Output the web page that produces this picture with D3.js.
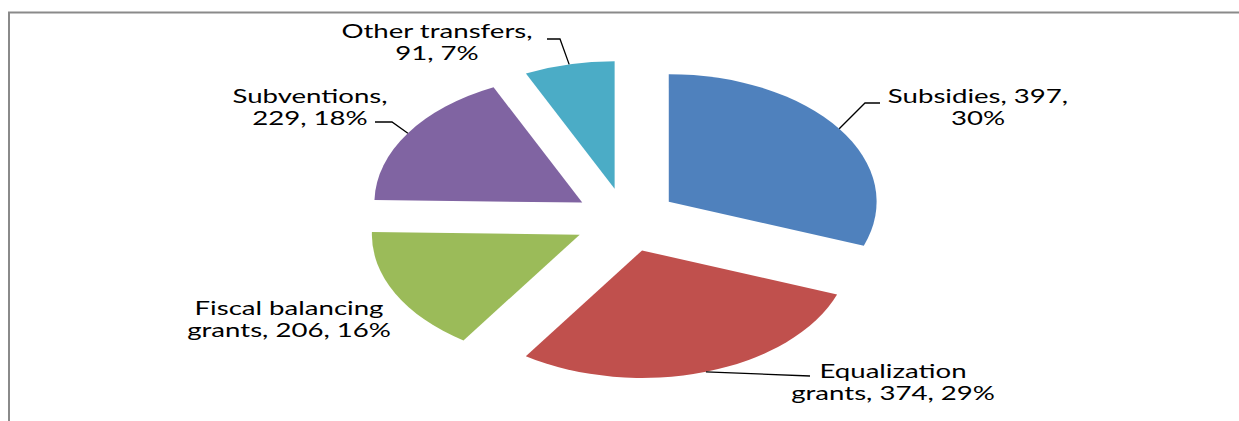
<!DOCTYPE html>
<html>
<head>
<meta charset="utf-8">
<script src="https://cdn.jsdelivr.net/npm/d3@7"></script>
<style>
  body { margin: 0; background: #fff; }
  svg { display: block; }
</style>
</head>
<body>
<div id="chart"></div>
<script>
// Data
const categories = ['Subsidies', 'Equalization grants', 'Fiscal balancing grants', 'Subventions', 'Other transfers'];
const values = [397, 374, 206, 229, 91];
const percents = ['30%', '29%', '16%', '18%', '7%'];
const colors = ['#4F81BD', '#C0504D', '#9BBB59', '#8064A2', '#4BACC6'];
// number of words on the first line of each label
const wrapAfter = [2, 1, 2, 1, 2];

const width = 1239;
const height = 421;

// pie geometry (drawn as a circle, then stretched horizontally)
const cx = 626;
const cy = 220;
const radius = 127.5;
const kx = 1.63;
const explode = 32;

// label anchors: centre x, first baseline y, and leader elbow / end
const labelLayout = [
  { x: 978, y: 103, leader: [[865, 103], [880, 103]] },
  { x: 893, y: 378, leader: [[810, 376]] },
  { x: 289, y: 315, leader: null },
  { x: 310, y: 103, leader: [[392, 122], [375, 122]] },
  { x: 437, y: 38, leader: [[560, 39], [547, 39]] }
];
const textStretch = 1.38;

const svg = d3.select('#chart')
  .append('svg')
  .attr('width', width)
  .attr('height', height);

// chart frame (only top and left edges are in view)
svg.append('path')
  .attr('d', `M9,${height} V12.5 H${width}`)
  .attr('fill', 'none')
  .attr('stroke', '#8a8a8a')
  .attr('stroke-width', 2);

const pie = d3.pie().sort(null).value((d) => d.value);
const arcs = pie(categories.map((c, i) => ({ name: c, value: values[i], pct: percents[i], i })));

const arc = d3.arc().innerRadius(0).outerRadius(radius);

const pieGroup = svg.append('g')
  .attr('transform', `translate(${cx},${cy}) scale(${kx},1)`);

const offset = (d, r) => {
  const a = (d.startAngle + d.endAngle) / 2;
  return [Math.sin(a) * r, -Math.cos(a) * r];
};

pieGroup.selectAll('path')
  .data(arcs)
  .enter()
  .append('path')
  .attr('transform', (d) => `translate(${offset(d, explode)})`)
  .attr('d', arc)
  .attr('fill', (d) => colors[d.data.i]);

// leader lines: start on the outer edge at the mid angle of the exploded slice
const toPx = (p) => [cx + p[0] * kx, cy + p[1]];
arcs.forEach((d, i) => {
  const lay = labelLayout[i];
  if (!lay.leader) return;
  const o = offset(d, explode);
  const e = offset(d, radius);
  const start = toPx([o[0] + e[0], o[1] + e[1]]);
  svg.append('path')
    .attr('d', d3.line()([start, ...lay.leader]))
    .attr('fill', 'none')
    .attr('stroke', '#000')
    .attr('stroke-width', 1.3);
});

// labels
arcs.forEach((d, i) => {
  const lay = labelLayout[i];
  const words = `${d.data.name}, ${d.data.value}, ${d.data.pct}`.split(' ');
  const lines = [words.slice(0, wrapAfter[i]).join(' '), words.slice(wrapAfter[i]).join(' ')];
  const t = svg.append('text')
    .attr('transform', `translate(${lay.x},${lay.y}) scale(${textStretch},1)`)
    .attr('text-anchor', 'middle')
    .attr('font-family', 'Lato, "Open Sans", sans-serif')
    .attr('font-size', 20)
    .attr('fill', '#000');
  lines.forEach((l, j) => {
    t.append('tspan')
      .attr('x', 0)
      .attr('y', j * 22)
      .text(l);
  });
});
</script>
</body>
</html>
